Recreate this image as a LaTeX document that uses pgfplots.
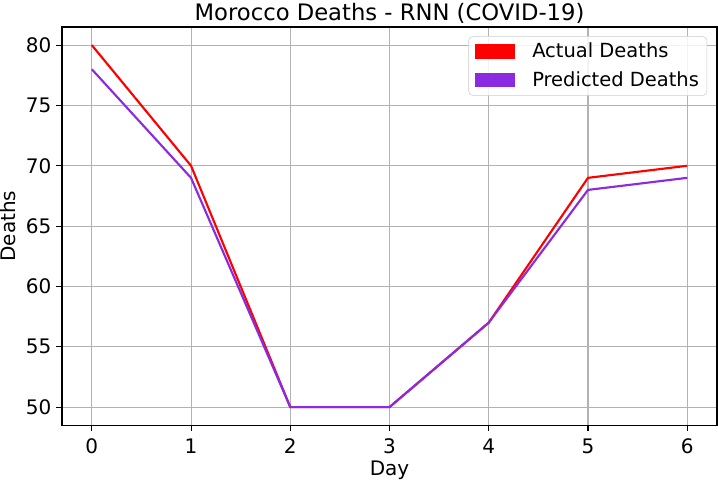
\documentclass[border=0pt]{standalone}
\usepackage{pgfplots}
\pgfplotsset{compat=1.18}
\usepackage{fontspec}
\setmainfont{DejaVu Sans}
\usetikzlibrary{calc}
\definecolor{predcol}{HTML}{8A2BE2}
\begin{document}
\begin{tikzpicture}[x=1pt,y=1pt]
\begin{axis}[
  name=ax,
  scale only axis,
  width=491pt, height=298.5pt,
  xmin=-0.3, xmax=6.3, ymin=48.5, ymax=81.5,
  xtick={0,1,2,3,4,5,6},
  ytick={50,55,60,65,70,75,80},
  tick align=outside, tick pos=left,
  major tick length=4.5pt,
  grid=major,
  grid style={color=black!30, line width=0.8pt},
  axis line style={line width=0.8pt},
  every tick/.style={black, line width=0.8pt},
  /pgf/number format/assume math mode=true,
  ticklabel style={font=\fontsize{15}{17}\selectfont},
  xticklabel style={yshift=-2pt},
  title={Morocco Deaths - RNN (COVID-19)},
  title style={font=\fontsize{17}{20}\selectfont, anchor=base, yshift=-0.75pt},
  xlabel={Day}, ylabel={Deaths},
  label style={font=\fontsize{15}{17}\selectfont},
  xlabel style={yshift=1.5pt},
  ylabel style={yshift=1pt},
  legend style={font=\fontsize{14.6}{17}\selectfont, draw=black!20, rounded corners=3pt, fill=white, fill opacity=0.85, text opacity=1, at={(0.985,0.977)}, anchor=north east, row sep=5pt, inner xsep=4pt, inner ysep=3pt},
  legend cell align=left,
  legend image code/.code={\fill[#1, draw=none, sharp corners, fill opacity=1] (0pt,-5.25pt) rectangle (30pt,5.25pt); \path (0pt,0pt) (40pt,0pt);},
]
\addplot[color=red, line width=1.6pt] coordinates {(0,80) (1,70) (2,50) (3,50) (4,57) (5,69) (6,70)};
\addlegendentry{Actual Deaths}
\addplot[color=predcol, line width=1.6pt] coordinates {(0,78) (1,69) (2,50) (3,50) (4,57) (5,68) (6,69)};
\addlegendentry{Predicted Deaths}
\end{axis}
\pgfresetboundingbox
\path ($(ax.south west)+(-46.5pt,-42pt)$) rectangle ($(ax.north east)+(0.75pt,20.25pt)$);
\end{tikzpicture}
\end{document}
